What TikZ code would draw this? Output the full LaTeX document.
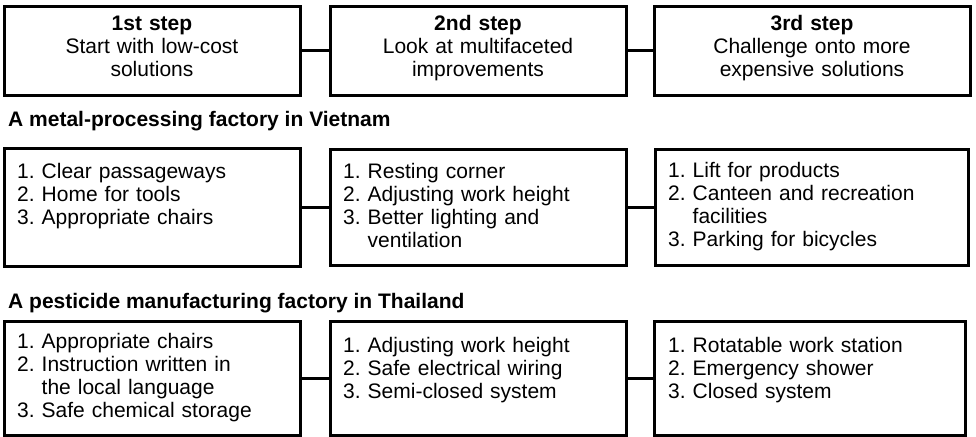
\documentclass[tikz,border=0pt]{standalone}
\usepackage{fontspec}
\setmainfont{Liberation Sans}
\frenchspacing
\begin{document}
\begin{tikzpicture}[x=1pt,y=-1pt,
  box/.style={draw, line width=3pt, inner sep=0pt, outer sep=0pt},
  conn/.style={line width=3pt},
  txt/.style={inner sep=0pt, anchor=base west, text width=300pt, align=left,
    font=\fontsize{21}{23.2}\selectfont},
  steptxt/.style={inner sep=0pt, anchor=base, text width=310pt, align=center,
    font=\fontsize{21}{23}\selectfont},
  head/.style={inner sep=0pt, anchor=base west, font=\fontsize{21}{23}\selectfont\bfseries}
]
\fill[white] (0,0) rectangle (976,436);
\useasboundingbox (0,0) rectangle (976,436);

% top row
\node[box, minimum width=296pt, minimum height=88pt] (s1) at (152,51) {};
\node[box, minimum width=296pt, minimum height=88pt] (s2) at (478,51) {};
\node[box, minimum width=316pt, minimum height=88pt] (s3) at (812,51) {};
\node[steptxt] (t1) at (152,31) {\textbf{1st step}\\Start with low-cost\\solutions};
\node[steptxt] (t2) at (478,31) {\textbf{2nd step}\\Look at multifaceted\\improvements};
\node[steptxt] (t3) at (812,31) {\textbf{3rd step}\\Challenge onto more\\expensive solutions};
\draw[conn] (s1.east) -- (s2.west);
\draw[conn] (s2.east) -- (s3.west);

% Vietnam
\node[head] (hv) at (8,126) {A metal-processing factory in Vietnam};
\node[box, minimum width=296pt, minimum height=118pt] (v1) at (152,207) {};
\node[box, minimum width=296pt, minimum height=116pt] (v2) at (478,207) {};
\node[box, minimum width=313pt, minimum height=116pt] (v3) at (811.5,207) {};
\node[txt] (vt1) at (17,178) {1. Clear passageways\\2. Home for tools\\3. Appropriate chairs};
\node[txt] (vt2) at (343,178) {1. Resting corner\\2. Adjusting work height\\3. Better lighting and\\\hphantom{3.\ }ventilation};
\node[txt] (vt3) at (668,177) {1. Lift for products\\2. Canteen and recreation\\\hphantom{2.\ }facilities\\3. Parking for bicycles};
\draw[conn] (v1.east) -- (v2.west);
\draw[conn] (v2.east) -- (v3.west);

% Thailand
\node[head] (ht) at (8,308) {A pesticide manufacturing factory in Thailand};
\node[box, minimum width=296pt, minimum height=114pt] (p1) at (152,378) {};
\node[box, minimum width=296pt, minimum height=114pt] (p2) at (478,378) {};
\node[box, minimum width=311pt, minimum height=114pt] (p3) at (809.5,378) {};
\node[txt] (pt1) at (17,348) {1. Appropriate chairs\\2. Instruction written in\\\hphantom{2.\ }the local language\\3. Safe chemical storage};
\node[txt] (pt2) at (343,352) {1. Adjusting work height\\2. Safe electrical wiring\\3. Semi-closed system};
\node[txt] (pt3) at (668,352) {1. Rotatable work station\\2. Emergency shower\\3. Closed system};
\draw[conn] (p1.east) -- (p2.west);
\draw[conn] (p2.east) -- (p3.west);
\end{tikzpicture}
\end{document}
